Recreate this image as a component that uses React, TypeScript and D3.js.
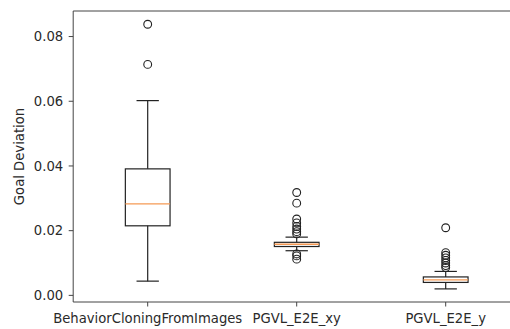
import React from "react";
import * as d3 from "d3";

const categories = ["BehaviorCloningFromImages", "PGVL_E2E_xy", "PGVL_E2E_y"];
const whiskerLow = [0.0044, 0.0138, 0.0020];
const q1 = [0.0215, 0.0151, 0.0040];
const medians = [0.0283, 0.0158, 0.0048];
const q3 = [0.0391, 0.0164, 0.0057];
const whiskerHigh = [0.0602, 0.0180, 0.0074];
const fliers1 = [0.0838, 0.0714];
const fliers2 = [0.0318, 0.0285, 0.0236, 0.0224, 0.0213, 0.0205, 0.0197, 0.0190, 0.0128, 0.0122, 0.0112];
const fliers3 = [0.0209, 0.0132, 0.0124, 0.0116, 0.0108, 0.0100, 0.0092, 0.0086];
const fliers = [fliers1, fliers2, fliers3];
const yTicks = [0.0, 0.02, 0.04, 0.06, 0.08];
const yLabel = "Goal Deviation";

const W = 510;
const H = 329;
const left = 73.2;
const right = 520.2;
const top = 11;
const bottom = 302;

export default function App() {
  const x = d3.scaleLinear().domain([0.5, 3.5]).range([left, right]);
  const y = d3.scaleLinear().domain([-0.00205, 0.0879]).range([bottom, top]);
  const boxW = x(0.3) - x(0);
  const capW = boxW / 2;
  const font = "'DejaVu Sans', sans-serif";
  const fs = 13.2;
  const txt = "#2a2a2a";
  const lineC = "#222";
  return (
    <svg width={W} height={H} style={{ position: "absolute", left: 0, top: 0 }}>
      <rect width={W} height={H} fill="#fff" />
      {categories.map((c, i) => {
        const cx = x(i + 1);
        return (
          <g key={c}>
            <line x1={cx} x2={cx} y1={y(whiskerLow[i])} y2={y(q1[i])} stroke={lineC} strokeWidth={1.2} />
            <line x1={cx} x2={cx} y1={y(q3[i])} y2={y(whiskerHigh[i])} stroke={lineC} strokeWidth={1.2} />
            <line x1={cx - capW / 2} x2={cx + capW / 2} y1={y(whiskerLow[i])} y2={y(whiskerLow[i])} stroke={lineC} strokeWidth={1.2} />
            <line x1={cx - capW / 2} x2={cx + capW / 2} y1={y(whiskerHigh[i])} y2={y(whiskerHigh[i])} stroke={lineC} strokeWidth={1.2} />
            <rect x={cx - boxW / 2} y={y(q3[i])} width={boxW} height={y(q1[i]) - y(q3[i])} fill="none" stroke={lineC} strokeWidth={1.2} />
            <line x1={cx - boxW / 2} x2={cx + boxW / 2} y1={y(medians[i])} y2={y(medians[i])} stroke="#f59a55" strokeWidth={1.3} />
            {fliers[i].map((v, j) => (
              <circle key={j} cx={cx} cy={y(v)} r={3.9} fill="none" stroke={lineC} strokeWidth={1.1} />
            ))}
          </g>
        );
      })}
      {/* spines */}
      <g stroke="#444" strokeWidth={1} fill="none">
        <line x1={left} x2={left} y1={top} y2={bottom} />
        <line x1={left} x2={right} y1={top} y2={top} />
        <line x1={left} x2={right} y1={bottom} y2={bottom} />
      </g>
      {/* y ticks */}
      {yTicks.map((t) => (
        <g key={t}>
          <line x1={left - 4.5} x2={left} y1={y(t)} y2={y(t)} stroke="#444" strokeWidth={1} />
          <text x={left - 10} y={y(t)} dy="0.36em" textAnchor="end" fontFamily={font} fontSize={fs} fill={txt}>
            {d3.format(".2f")(t)}
          </text>
        </g>
      ))}
      {/* x ticks */}
      {categories.map((c, i) => (
        <g key={c}>
          <line x1={x(i + 1)} x2={x(i + 1)} y1={bottom} y2={bottom + 4.5} stroke="#444" strokeWidth={1} />
          <text x={x(i + 1)} y={bottom + 20.5} textAnchor="middle" fontFamily={font} fontSize={fs} fill={txt}>
            {c}
          </text>
        </g>
      ))}
      <text
        transform={`translate(${24},${(top + bottom) / 2}) rotate(-90)`}
        textAnchor="middle"
        fontFamily={font}
        fontSize={fs}
        fill={txt}
      >
        {yLabel}
      </text>
    </svg>
  );
}
